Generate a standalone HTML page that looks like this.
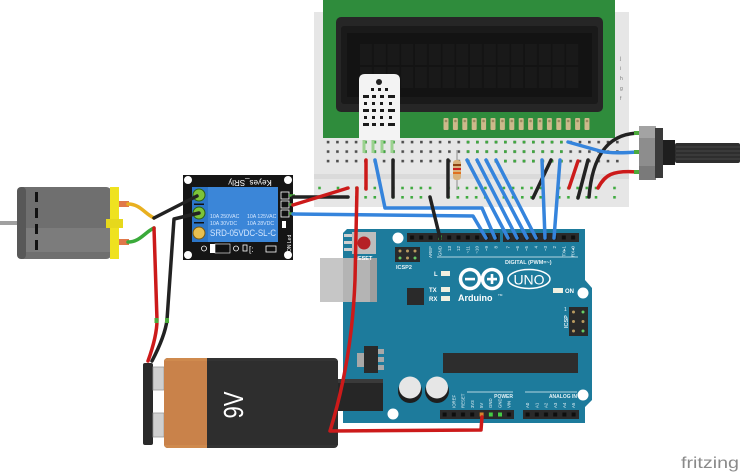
<!DOCTYPE html>
<html><head><meta charset="utf-8">
<style>
html,body{margin:0;padding:0;background:#fff;}
svg{display:block;}
text{font-family:"Liberation Sans",sans-serif;}
</style></head><body>
<svg width="740" height="473" viewBox="0 0 740 473" xmlns="http://www.w3.org/2000/svg">
<defs>
<pattern id="dk" patternUnits="userSpaceOnUse" x="323.3" y="137.3" width="9.33" height="9.5"><rect x="3.5" y="3.5" width="2.6" height="2.6" fill="#4d4d4d"/></pattern>
<pattern id="gr" patternUnits="userSpaceOnUse" x="323.3" y="137.3" width="9.33" height="9.5"><rect x="3.5" y="3.5" width="2.6" height="2.6" fill="#3faa3f"/></pattern>
<pattern id="rail" patternUnits="userSpaceOnUse" x="336.7" y="186.7" width="55.3" height="9.3">
<rect x="0" y="0" width="2.6" height="2.6" fill="#3faa3f"/><rect x="9.2" y="0" width="2.6" height="2.6" fill="#3faa3f"/><rect x="18.4" y="0" width="2.6" height="2.6" fill="#3faa3f"/><rect x="27.6" y="0" width="2.6" height="2.6" fill="#3faa3f"/><rect x="36.8" y="0" width="2.6" height="2.6" fill="#3faa3f"/></pattern>
<pattern id="cell" patternUnits="userSpaceOnUse" x="360" y="44" width="13.75" height="23"><rect x="0" y="0" width="12" height="21" fill="#191919"/></pattern>
<pattern id="lpin" patternUnits="userSpaceOnUse" x="443.5" y="118" width="9.4" height="14"><rect x="0" y="0" width="5" height="12" rx="1" fill="#cdb98b"/><circle cx="2.5" cy="3" r="1.3" fill="#9a8a5f"/></pattern>
<pattern id="hp1" patternUnits="userSpaceOnUse" x="407.4" y="233" width="9.3" height="9"><rect x="2.6" y="2.5" width="4" height="4" fill="#0e0e0e"/></pattern>
<pattern id="hp2" patternUnits="userSpaceOnUse" x="503.4" y="233" width="9.3" height="9"><rect x="2.6" y="2.5" width="4" height="4" fill="#0e0e0e"/></pattern>
<pattern id="bp1" patternUnits="userSpaceOnUse" x="440" y="410" width="9.2" height="9"><rect x="2.6" y="2.5" width="4" height="4" fill="#0e0e0e"/></pattern>
<pattern id="bp2" patternUnits="userSpaceOnUse" x="523" y="410" width="9.2" height="9"><rect x="2.6" y="2.5" width="4" height="4" fill="#0e0e0e"/></pattern>
</defs>

<!-- Breadboard -->
<rect x="314" y="12" width="315" height="195" fill="#e6e6e6"/>
<rect x="314" y="174" width="315" height="5" fill="#dadada"/>
<rect x="323" y="137" width="297" height="29" fill="url(#dk)"/>
<rect x="463" y="137" width="101" height="29" fill="url(#gr)"/>
<rect x="361" y="137" width="36" height="19" fill="url(#gr)"/>
<rect x="318" y="186" width="304" height="14" fill="url(#rail)"/>
<g font-size="5" fill="#777">
<text x="620" y="60">j</text><text x="620" y="70">i</text><text x="620" y="80">h</text><text x="620" y="90">g</text><text x="620" y="100">f</text>
</g>

<!-- LCD -->
<rect x="323" y="0" width="292" height="138" fill="#2f8c3c"/>
<rect x="336" y="17" width="267" height="95" rx="5" fill="#262626"/>
<rect x="341" y="26" width="257" height="78" rx="3" fill="#1a1a1a"/>
<rect x="347" y="33" width="245" height="64" fill="#131313"/>
<rect x="360" y="44" width="220" height="46" fill="url(#cell)"/>
<rect x="443.5" y="118" width="146" height="12" fill="url(#lpin)"/>

<!-- DHT sensor -->
<path d="M359,140 L359,80 Q359,74 365,74 L394,74 Q400,74 400,80 L400,140 Z" fill="#f3f3f3"/>
<circle cx="379" cy="82" r="3" fill="#222"/>
<g fill="#1a1a1a">
<rect x="371" y="88" width="3" height="3"/><rect x="378" y="88" width="3" height="3"/><rect x="385" y="88" width="3" height="3"/>
<rect x="363" y="95" width="6" height="3"/><rect x="372" y="95" width="4" height="3"/><rect x="380" y="95" width="4" height="3"/><rect x="388" y="95" width="7" height="3"/>
<rect x="364" y="102" width="3" height="3"/><rect x="372" y="102" width="3" height="3"/><rect x="380" y="102" width="3" height="3"/><rect x="389" y="102" width="3" height="3"/>
<rect x="363" y="109" width="6" height="3"/><rect x="372" y="109" width="4" height="3"/><rect x="380" y="109" width="4" height="3"/><rect x="388" y="109" width="7" height="3"/>
<rect x="364" y="116" width="3" height="3"/><rect x="372" y="116" width="3" height="3"/><rect x="380" y="116" width="3" height="3"/><rect x="389" y="116" width="3" height="3"/>
<rect x="363" y="123" width="6" height="3"/><rect x="372" y="123" width="4" height="3"/><rect x="380" y="123" width="4" height="3"/><rect x="388" y="123" width="7" height="3"/>
</g>
<g fill="#9bd18f"><rect x="362.5" y="140" width="3" height="13"/><rect x="371.5" y="140" width="3" height="13"/><rect x="380.5" y="140" width="3" height="13"/><rect x="390.5" y="140" width="3" height="13"/></g>

<!-- Resistor -->
<line x1="457" y1="150" x2="457" y2="190" stroke="#aaa" stroke-width="1.5"/>
<rect x="453" y="160" width="8" height="20" rx="3" fill="#d9b27c"/>
<rect x="453" y="164" width="8" height="2" fill="#8b4513"/>
<rect x="453" y="168" width="8" height="2" fill="#c82020"/>
<rect x="453" y="172" width="8" height="2" fill="#e07020"/>

<!-- Arduino -->
<path d="M343,233 L347,229 L585,229 L585,280 L592,288 L592,400 L585,407 L585,423 L343,423 Z" fill="#1d7b9c"/>
<rect x="320" y="258" width="57" height="44" fill="#b4b4b4"/>
<rect x="320" y="258" width="23" height="44" fill="#c6c6c6"/>
<rect x="370" y="258" width="7" height="44" fill="#9e9e9e"/>
<rect x="337" y="379" width="46" height="32" fill="#262626"/>
<rect x="337" y="379" width="46" height="4" fill="#3a3a3a"/>
<g fill="#cfcfcf"><rect x="344" y="234" width="8" height="3"/><rect x="344" y="241" width="8" height="3"/><rect x="344" y="248" width="8" height="3"/></g>
<rect x="352" y="232" width="24" height="22" fill="#bdbdbd"/>
<circle cx="364" cy="243" r="6.5" fill="#b52025"/>
<text x="354" y="260" font-size="5.5" fill="#fff" font-weight="bold">RESET</text>
<g fill="#fff">
<circle cx="398" cy="238" r="5.5"/><circle cx="583" cy="293" r="5.5"/><circle cx="583" cy="395" r="5.5"/><circle cx="393" cy="414" r="5.5"/>
</g>
<rect x="407" y="233" width="93" height="9" fill="#2a2a2a"/>
<rect x="407" y="233" width="93" height="9" fill="url(#hp1)"/>
<rect x="503" y="233" width="76" height="9" fill="#2a2a2a"/>
<rect x="503" y="233" width="76" height="9" fill="url(#hp2)"/>
<rect x="438" y="235.5" width="4" height="4" fill="#4c4"/>
<g font-size="4.5" fill="#e6f2f6" text-anchor="end">
<text transform="translate(432.2,246) rotate(-90)">AREF</text>
<text transform="translate(441.5,246) rotate(-90)">GND</text>
<text transform="translate(450.8,246) rotate(-90)">13</text>
<text transform="translate(460.1,246) rotate(-90)">12</text>
<text transform="translate(469.4,246) rotate(-90)">~11</text>
<text transform="translate(478.7,246) rotate(-90)">~10</text>
<text transform="translate(488,246) rotate(-90)">~9</text>
<text transform="translate(497.3,246) rotate(-90)">8</text>
<text transform="translate(509.6,246) rotate(-90)">7</text>
<text transform="translate(518.9,246) rotate(-90)">~6</text>
<text transform="translate(528.2,246) rotate(-90)">~5</text>
<text transform="translate(537.5,246) rotate(-90)">4</text>
<text transform="translate(546.8,246) rotate(-90)">~3</text>
<text transform="translate(556.1,246) rotate(-90)">2</text>
<text transform="translate(565.4,246) rotate(-90)">TX▸1</text>
<text transform="translate(574.7,246) rotate(-90)">RX◂0</text>
</g>
<line x1="437" y1="257" x2="578" y2="257" stroke="#e6f2f6" stroke-width="0.8"/>
<text x="505" y="264" font-size="5.5" fill="#e6f2f6" font-weight="bold">DIGITAL (PWM=~)</text>
<rect x="395" y="247" width="25" height="15" fill="#2a2a2a"/>
<g fill="#b89a60"><circle cx="400" cy="251" r="1.5"/><circle cx="407.5" cy="251" r="1.5"/><circle cx="415" cy="251" r="1.5"/><circle cx="407.5" cy="258" r="1.5"/></g>
<g fill="#6c6"><circle cx="400" cy="258" r="1.5"/><circle cx="415" cy="258" r="1.5"/></g>
<text x="396" y="269" font-size="5.5" fill="#e6f2f6" font-weight="bold">ICSP2</text>
<g fill="#f0f0e0"><rect x="441" y="271" width="9" height="5"/><rect x="441" y="287" width="9" height="5"/><rect x="441" y="296" width="9" height="5"/><rect x="553" y="288" width="10" height="5"/></g>
<g font-size="6" fill="#fff" font-weight="bold"><text x="434" y="276">L</text><text x="429" y="292">TX</text><text x="429" y="301">RX</text><text x="565" y="293">ON</text></g>
<rect x="407" y="288" width="17" height="17" fill="#2a2a2a"/>
<circle cx="470" cy="279" r="9.5" fill="none" stroke="#fff" stroke-width="3.5"/>
<circle cx="492" cy="279" r="9.5" fill="none" stroke="#fff" stroke-width="3.5"/>
<rect x="465" y="277.8" width="10" height="2.6" fill="#fff"/>
<rect x="487" y="277.8" width="10" height="2.6" fill="#fff"/>
<rect x="490.7" y="274" width="2.6" height="10" fill="#fff"/>
<ellipse cx="529" cy="279" rx="21" ry="9.5" fill="none" stroke="#fff" stroke-width="1.5"/>
<text x="529" y="284.5" font-size="14" fill="#fff" text-anchor="middle">UNO</text>
<text x="458" y="301" font-size="9" fill="#fff" font-family="Liberation Mono, monospace" font-weight="bold">Arduino</text>
<text x="498" y="296" font-size="3" fill="#fff">TM</text>
<rect x="569" y="307" width="19" height="29" fill="#2a2a2a"/>
<g fill="#b89a60"><circle cx="573.5" cy="312" r="1.5"/><circle cx="573.5" cy="321.5" r="1.5"/><circle cx="583" cy="321.5" r="1.5"/><circle cx="573.5" cy="331" r="1.5"/></g>
<g fill="#6c6"><circle cx="583" cy="312" r="1.5"/><circle cx="583" cy="331" r="1.5"/></g>
<text transform="translate(568,328) rotate(-90)" font-size="5.5" fill="#e6f2f6" font-weight="bold">ICSP</text>
<text x="564" y="311" font-size="5" fill="#e6f2f6">1</text>
<rect x="443" y="353" width="135" height="20" fill="#2d2d2d"/>
<rect x="357" y="353" width="7" height="14" fill="#a8a8a8"/>
<rect x="364" y="346" width="14" height="27" fill="#2a2a2a"/>
<g fill="#a8a8a8"><rect x="378" y="349" width="6" height="5"/><rect x="378" y="357" width="6" height="5"/><rect x="378" y="365" width="6" height="5"/></g>
<circle cx="410" cy="391" r="12" fill="#1e1e1e"/>
<circle cx="410" cy="387.5" r="11" fill="#e6e6e6"/>
<circle cx="437" cy="391" r="12" fill="#1e1e1e"/>
<circle cx="437" cy="387.5" r="11" fill="#e6e6e6"/>
<line x1="467" y1="392" x2="513" y2="392" stroke="#e6f2f6" stroke-width="0.8"/>
<line x1="525" y1="392" x2="577" y2="392" stroke="#e6f2f6" stroke-width="0.8"/>
<text x="513" y="398" font-size="5" fill="#e6f2f6" text-anchor="end" font-weight="bold">POWER</text>
<text x="577" y="398" font-size="5" fill="#e6f2f6" text-anchor="end" font-weight="bold">ANALOG IN</text>
<g font-size="4.3" fill="#e6f2f6">
<text transform="translate(455.4,408) rotate(-90)">IOREF</text>
<text transform="translate(464.6,408) rotate(-90)">RESET</text>
<text transform="translate(473.8,408) rotate(-90)">3V3</text>
<text transform="translate(483,408) rotate(-90)">5V</text>
<text transform="translate(492.2,408) rotate(-90)">GND</text>
<text transform="translate(501.4,408) rotate(-90)">GND</text>
<text transform="translate(510.6,408) rotate(-90)">VIN</text>
<text transform="translate(529.2,408) rotate(-90)">A0</text>
<text transform="translate(538.4,408) rotate(-90)">A1</text>
<text transform="translate(547.6,408) rotate(-90)">A2</text>
<text transform="translate(556.8,408) rotate(-90)">A3</text>
<text transform="translate(566,408) rotate(-90)">A4</text>
<text transform="translate(575.2,408) rotate(-90)">A5</text>
</g>
<rect x="440" y="410" width="74" height="9" fill="#2a2a2a"/>
<rect x="440" y="410" width="74" height="9" fill="url(#bp1)"/>
<rect x="523" y="410" width="56" height="9" fill="#2a2a2a"/>
<rect x="523" y="410" width="56" height="9" fill="url(#bp2)"/>
<rect x="479.6" y="412.5" width="4" height="4" fill="#d9822b"/>
<rect x="488.8" y="412.5" width="4" height="4" fill="#4c4"/>
<rect x="498" y="412.5" width="4" height="4" fill="#4c4"/>

<!-- Motor -->
<rect x="0" y="221" width="18" height="4" fill="#a0a0a0"/>
<rect x="17" y="187" width="95" height="72" rx="6" fill="#6f6f6f"/>
<rect x="25" y="228" width="85" height="24" fill="#7c7c7c"/>
<rect x="17" y="187" width="9" height="72" rx="4" fill="#585858"/>
<g fill="#111"><rect x="35" y="192" width="3" height="10"/><rect x="35" y="208" width="3" height="10"/><rect x="35" y="224" width="3" height="10"/><rect x="35" y="240" width="3" height="10"/></g>
<rect x="110" y="187" width="9" height="72" fill="#efe21f"/>
<rect x="106" y="219" width="17" height="9" fill="#e6d81c"/>
<rect x="119" y="201" width="10" height="6" fill="#e0784a"/>
<rect x="119" y="239" width="10" height="6" fill="#e0784a"/>

<!-- Relay -->
<rect x="183" y="175" width="110" height="85" fill="#151515"/>
<g fill="#fff"><circle cx="188" cy="180" r="4"/><circle cx="288" cy="180" r="4"/><circle cx="188" cy="255" r="4"/><circle cx="288" cy="255" r="4"/></g>
<text transform="translate(250,180) rotate(180)" font-size="8" fill="#fff" text-anchor="middle">Keyes_SRly</text>
<rect x="192" y="187" width="86" height="55" fill="#3b86d8"/>
<rect x="192" y="187" width="16" height="55" fill="#2c76c9"/>
<circle cx="199" cy="195" r="6" fill="#7cc43a" stroke="#2e5e12" stroke-width="1"/>
<circle cx="199" cy="213" r="6" fill="#7cc43a" stroke="#2e5e12" stroke-width="1"/>
<circle cx="199" cy="233" r="6" fill="#e8c050" stroke="#7a5a10" stroke-width="1"/>
<rect x="194" y="203.5" width="10" height="1.5" fill="#111"/>
<rect x="194" y="222" width="10" height="1.5" fill="#111"/>
<g fill="#d6e8ff" font-size="5.2">
<text x="210" y="218">10A 250VAC</text><text x="247" y="218">10A 125VAC</text>
<text x="210" y="225">10A  30VDC</text><text x="247" y="225">10A  28VDC</text>
</g>
<text x="210" y="236" font-size="9" fill="#d6e8ff" textLength="66" lengthAdjust="spacingAndGlyphs">SRD-05VDC-SL-C</text>
<g fill="#111" stroke="#fff" stroke-width="0.8"><rect x="281" y="192" width="8" height="7"/><rect x="281" y="201" width="8" height="7"/><rect x="281" y="210" width="8" height="7"/></g>
<rect x="282" y="221" width="4" height="7" fill="#fff"/>
<text transform="translate(291,252) rotate(-90)" font-size="5" fill="#fff">ON Led</text>
<rect x="210" y="244" width="5" height="9" fill="#fff"/>
<rect x="215" y="244" width="15" height="9" fill="#111" stroke="#fff" stroke-width="0.6"/>
<circle cx="204" cy="248.5" r="2.5" fill="none" stroke="#fff" stroke-width="0.8"/>
<circle cx="236" cy="248.5" r="2.5" fill="none" stroke="#fff" stroke-width="0.8"/>
<rect x="243" y="245" width="4" height="6" fill="none" stroke="#fff" stroke-width="0.8"/>
<text x="249" y="252" font-size="8" fill="#fff">[:</text>
<rect x="266" y="246" width="10" height="6" fill="#111" stroke="#fff" stroke-width="0.8"/>
<g stroke="#4caa3c" stroke-width="2.5"><line x1="289" y1="195.5" x2="295" y2="195.5"/><line x1="289" y1="204.5" x2="295" y2="204.5"/><line x1="289" y1="213.5" x2="295" y2="213.5"/></g>

<!-- Battery -->
<rect x="143" y="363" width="10" height="82" rx="2" fill="#2a2a2a"/>
<rect x="153" y="367" width="11" height="23" fill="#cfcfcf" stroke="#999" stroke-width="0.8"/>
<rect x="153" y="413" width="11" height="24" fill="#cfcfcf" stroke="#999" stroke-width="0.8"/>
<rect x="164" y="358" width="174" height="90" rx="4" fill="#333"/>
<rect x="164" y="361" width="174" height="84" fill="#2e2e2e"/>
<path d="M168,358 L207,358 L207,448 L168,448 Q164,448 164,444 L164,362 Q164,358 168,358 Z" fill="#cf8a4e"/>
<rect x="164" y="361" width="43" height="84" fill="#c9824a"/>
<text transform="translate(243,405) rotate(-90)" font-size="28" fill="#fff" text-anchor="middle" textLength="27" lengthAdjust="spacingAndGlyphs">9V</text>

<!-- Wires -->
<g fill="none" stroke-linecap="round" stroke-linejoin="round" stroke-width="3.5">
<path d="M128,204 C140,204 145,214 154,218" stroke="#e8b020"/>
<path d="M128,242 C140,242 145,232 154,228" stroke="#3aaa3a"/>
<path d="M197,196 L154,218" stroke="#222"/>
<path d="M199,213 L174,219 L167,320 Q165,336 152,361" stroke="#222"/>
<path d="M154,228 L157,320 Q157,336 148,361" stroke="#cc1a1a"/>
<path d="M293,197 L348,197" stroke="#222"/>
<path d="M293,205 L348,188" stroke="#cc1a1a"/>
<path d="M293,214 L473,216 L486,238" stroke="#3584dc"/>
<path d="M357,188 L355,280 Q352,360 330,431 L481,430 L482,417" stroke="#cc1a1a"/>
<path d="M366,160 L366,189" stroke="#cc1a1a"/>
<path d="M375,160 L385,208 L482,208 L495,238" stroke="#3584dc"/>
<path d="M393,160 L393,197" stroke="#222"/>
<path d="M448,160 L448,197" stroke="#222"/>
<path d="M430,197 L440,238" stroke="#222"/>
<path d="M467,160 L508,238" stroke="#3584dc"/>
<path d="M477,160 L517,238" stroke="#3584dc"/>
<path d="M486,160 L527,238" stroke="#3584dc"/>
<path d="M496,160 L536,238" stroke="#3584dc"/>
<path d="M551,160 L533,198" stroke="#222"/>
<path d="M542,160 L545,238" stroke="#3584dc"/>
<path d="M560,160 L554,238" stroke="#3584dc"/>
<path d="M578,161 L569,188" stroke="#cc1a1a"/>
<path d="M588,160 L578,198" stroke="#222"/>
<path d="M589,197 C592,160 605,134 638,133" stroke="#222"/>
<path d="M598,188 C605,175 612,170 638,172" stroke="#cc1a1a"/>
<path d="M568,142 L600,151 Q610,154 638,152" stroke="#3584dc"/>
</g>
<g fill="#4caa3c"><rect x="154.5" y="318" width="4" height="5"/><rect x="165" y="318" width="4" height="5"/></g>

<!-- Potentiometer -->
<g fill="#4caa3c"><rect x="634" y="131" width="6" height="4"/><rect x="634" y="150" width="6" height="4"/><rect x="634" y="170" width="6" height="4"/></g>
<rect x="639" y="126" width="17" height="54" fill="#8d8d8d"/>
<rect x="639" y="126" width="17" height="12" fill="#a3a3a3"/>
<rect x="639" y="166" width="17" height="14" fill="#7a7a7a"/>
<rect x="655" y="128" width="8" height="50" fill="#3a3a3a"/>
<rect x="663" y="140" width="12" height="25" fill="#1e1e1e"/>
<rect x="675" y="143" width="65" height="20" rx="2" fill="#2e2e2e"/>
<g stroke="#474747" stroke-width="1"><line x1="676" y1="147" x2="740" y2="147"/><line x1="676" y1="151" x2="740" y2="151"/><line x1="676" y1="155" x2="740" y2="155"/><line x1="676" y1="159" x2="740" y2="159"/></g>

<!-- fritzing -->
<text x="681" y="468" font-size="16" fill="#8a8a8a" textLength="58" lengthAdjust="spacingAndGlyphs">fritzing</text>
</svg>
</body></html>
